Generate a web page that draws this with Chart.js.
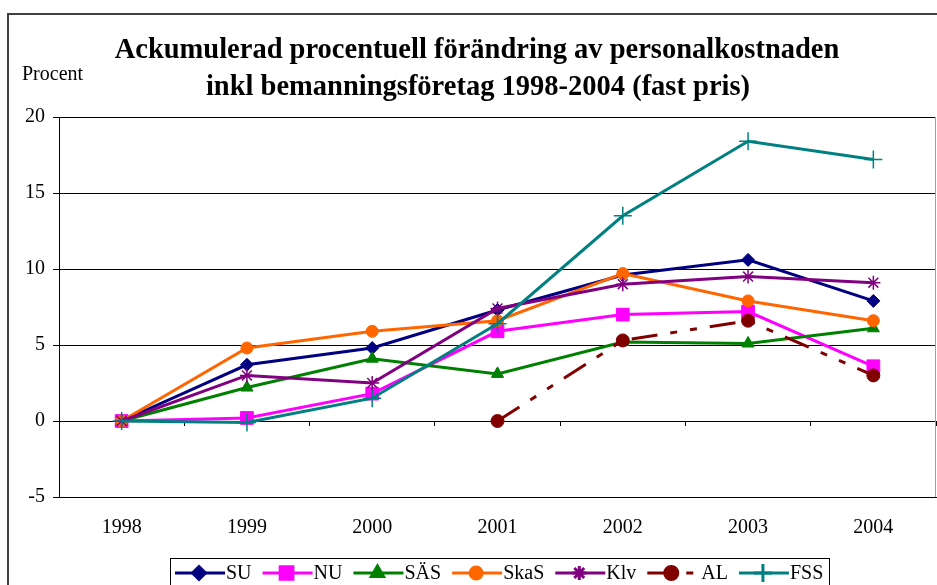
<!DOCTYPE html>
<html lang="sv">
<head>
  <meta charset="UTF-8" />
  <title>Ackumulerad procentuell förändring av personalkostnaden</title>
  <script src="https://cdn.jsdelivr.net/npm/chart.js"></script>
  <style>
    html, body { margin: 0; padding: 0; background: #fff; }
    #wrap { width: 937px; height: 585px; position: relative; }
  </style>
</head>
<body>
  <div id="wrap"><canvas id="myChart" width="937" height="585"></canvas></div>

  <script>
    const years = ['1998', '1999', '2000', '2001', '2002', '2003', '2004'];
    const yTicks = [-5, 0, 5, 10, 15, 20];

    const su   = [0, 3.7, 4.8, 7.3, 9.6, 10.6, 7.9];
    const nu   = [0, 0.2, 1.8, 5.9, 7.0, 7.2, 3.6];
    const sas  = [0, 2.2, 4.1, 3.1, 5.2, 5.1, 6.1];
    const skas = [0, 4.8, 5.9, 6.6, 9.7, 7.9, 6.6];
    const klv  = [0, 3.0, 2.5, 7.4, 9.0, 9.5, 9.1];
    const al   = [null, null, null, 0, 5.3, 6.6, 3.0];
    const fss  = [0, -0.1, 1.5, 6.4, 13.5, 18.4, 17.2];

    const titleLines = [
      'Ackumulerad procentuell förändring av personalkostnaden',
      'inkl bemanningsföretag 1998-2004 (fast pris)'
    ];
    const yTitle = 'Procent';

    const serif = "'Liberation Serif', 'Times New Roman', serif";
    const alDash = [26, 13, 7, 13, 7, 13];

    function series(label, data, color, style, radius, extra) {
      return Object.assign({
        label: label,
        data: data,
        borderColor: color,
        backgroundColor: color,
        borderWidth: 3,
        pointStyle: style,
        pointRadius: radius,
        pointBackgroundColor: color,
        pointBorderColor: color,
        pointBorderWidth: 1,
        tension: 0,
        spanGaps: false
      }, extra || {});
    }

    const datasets = [
      series('SU', su, '#000080', 'rectRot', 6.5),
      series('NU', nu, '#FF00FF', 'rect', 9),
      series('SÄS', sas, '#008000', 'triangle', 7),
      series('SkaS', skas, '#FF6600', 'circle', 6),
      series('Klv', klv, '#800080', 'star', 7, { pointBorderWidth: 1.5 }),
      series('AL', al, '#800000', 'circle', 6.5, { borderDash: alDash }),
      series('FSS', fss, '#008080', 'cross', 9, { pointBorderWidth: 1.5 })
    ];
    // later series on top, like the original
    datasets.forEach((d, i) => { d.order = datasets.length - i; });

    const decor = {
      id: 'decor',
      afterDraw(chart) {
        const c = chart.ctx;
        const area = chart.chartArea;
        c.save();

        // outer frame
        c.strokeStyle = '#404040';
        c.lineWidth = 2;
        c.strokeRect(8, 14, 1000, 1000);

        // right edge of plot area
        c.strokeStyle = '#a0a0a0';
        c.lineWidth = 1;
        c.beginPath();
        c.moveTo(Math.round(area.right) - 0.5, area.top);
        c.lineTo(Math.round(area.right) - 0.5, area.bottom);
        c.stroke();

        // title
        c.fillStyle = '#000';
        c.textAlign = 'center';
        c.textBaseline = 'middle';
        c.font = 'bold 28.5px ' + serif;
        c.fillText(titleLines[0], 477, 51);
        c.fillText(titleLines[1], 478, 88);

        c.textAlign = 'left';
        c.font = '20px ' + serif;
        c.fillText(yTitle, 22, 75);

        // legend
        const ly = 573;
        c.strokeStyle = '#000';
        c.lineWidth = 1;
        c.strokeRect(170.5, 558.5, 659, 60);
        let x = 175;
        chart.data.datasets.forEach(d => {
          c.save();
          c.strokeStyle = d.borderColor;
          c.lineWidth = d.borderWidth;
          c.setLineDash(d.borderDash || []);
          c.beginPath();
          c.moveTo(x, ly);
          c.lineTo(x + (d.borderDash ? 52 : 50), ly);
          c.stroke();
          c.setLineDash([]);
          c.fillStyle = d.pointBackgroundColor;
          c.strokeStyle = d.pointBorderColor;
          Chart.helpers.drawPoint(c, {
            pointStyle: d.pointStyle,
            radius: d.pointRadius,
            rotation: 0,
            borderWidth: d.pointBorderWidth
          }, x + 24, ly);
          c.restore();
          x += d.borderDash ? 54 : 51;
          c.fillStyle = '#000';
          c.font = '20px ' + serif;
          c.textAlign = 'left';
          c.textBaseline = 'middle';
          c.fillText(d.label, x, ly + 1);
          x += c.measureText(d.label).width + 11;
        });

        c.restore();
      }
    };

    const ctx = document.getElementById('myChart').getContext('2d');
    const myChart = new Chart(ctx, {
      type: 'line',
      data: { labels: years, datasets: datasets },
      options: {
        responsive: false,
        animation: false,
        layout: { autoPadding: false, padding: { top: 117, right: 1, bottom: 0, left: 0 } },
        scales: {
          x: {
            offset: true,
            grid: { display: false, drawTicks: false },
            border: { display: true, color: '#000', width: 1 },
            ticks: { color: '#000', padding: 19, font: { family: serif, size: 20 } },
            afterFit: s => { s.height = 88; s.paddingLeft = 0; s.paddingRight = 0; }
          },
          xz: {
            axis: 'x',
            type: 'category',
            position: { y: 0 },
            offset: true,
            grid: { offset: true, drawOnChartArea: false, drawTicks: true, tickLength: 5, color: '#000' },
            border: { display: false },
            ticks: { display: false }
          },
          y: {
            min: -5,
            max: 20,
            afterBuildTicks: s => { s.ticks = yTicks.map(v => ({ value: v })); },
            grid: { color: '#000', lineWidth: 1, tickLength: 6 },
            border: { color: '#000', width: 1 },
            ticks: { color: '#000', padding: 8, font: { family: serif, size: 20 } },
            afterFit: s => { s.width = 59; }
          }
        },
        plugins: {
          legend: { display: false },
          title: { display: false },
          tooltip: { enabled: false }
        }
      },
      plugins: [decor]
    });
  </script>
</body>
</html>
